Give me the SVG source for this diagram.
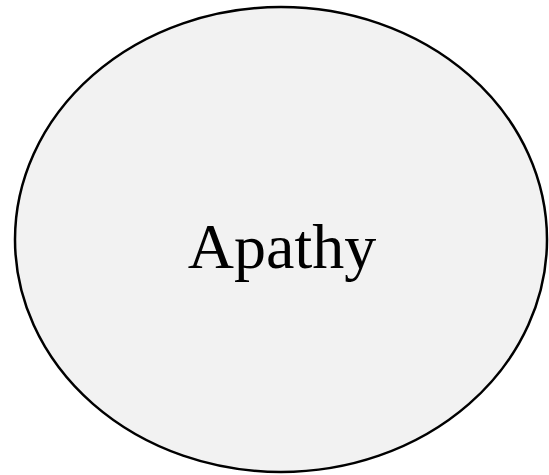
<svg xmlns="http://www.w3.org/2000/svg" width="549" height="475" viewBox="0 0 549 475">
  <style>
    .node-shape { fill: #f2f2f2; stroke: #000000; stroke-width: 2.5; }
    .node-label { font-family: "Liberation Serif", "DejaVu Serif", serif; font-size: 64px; fill: #000000; text-anchor: middle; }
  </style>
  <rect width="549" height="475" fill="#ffffff"/>
  <g id="connectors"></g>
  <g id="node-apathy">
    <ellipse class="node-shape" cx="281" cy="239.5" rx="266" ry="232.5"/>
    <text class="node-label" x="282" y="268">Apathy</text>
  </g>
</svg>
